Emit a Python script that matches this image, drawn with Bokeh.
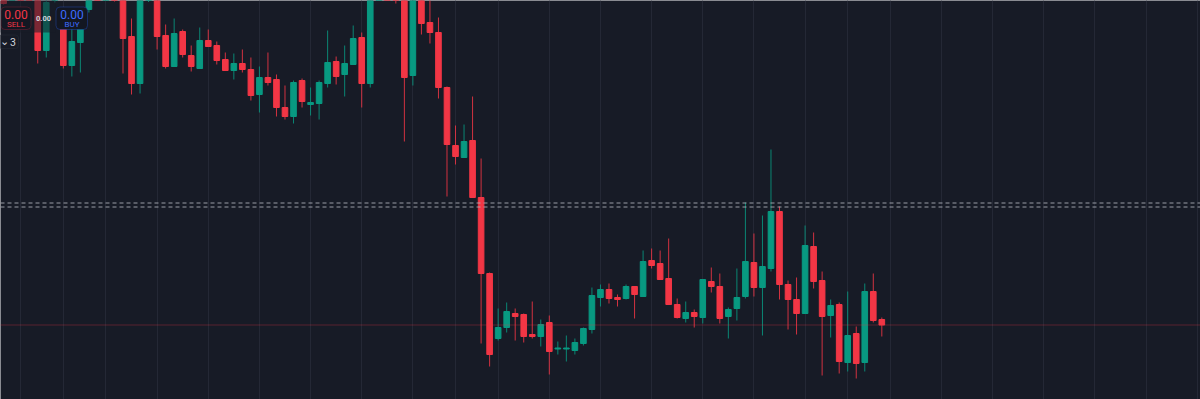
from bokeh.plotting import figure
from bokeh.models import Range1d, Span, BoxAnnotation, Label, FixedTicker, ColumnDataSource
from bokeh.embed import file_html
from bokeh.resources import INLINE

# ---- data (price units, arbitrary scale) ----
opens = [430, 410, 440, 415, 420, 350, 405, 385, 335, 358,
         391, 440, 415, 430, 410, 364, 317, 405, 420, 365,
         334, 369, 345, 332, 360, 355, 341, 330, 337, 331,
         306, 323, 321, 293, 284, 320, 296, 297, 317, 339,
         326, 336, 363, 317, 410, 450, 440, 410, 325, 405,
         378, 368, 313, 255, 243, 260, 203, 127, 62, 73,
         87, 86, 66, 64, 78, 51.5, 51.5, 50, 57, 71,
         103, 111, 103, 102, 114, 104, 140, 137, 122, 96,
         82, 88, 83, 119, 114, 84, 92, 104, 138, 113,
         132, 189, 116, 101, 87, 154, 120, 85, 96, 38,
         67, 38, 109, 81]
highs = [440, 445, 450, 420, 425, 405, 435, 392, 380, 385,
         420, 450, 450, 440, 420, 382, 415, 445, 430, 376,
         382, 371, 355, 373, 371, 359, 348, 347, 351, 343,
         334, 348, 326, 315, 320, 322, 313, 320, 370, 344,
         355, 375, 368, 430, 460, 460, 450, 420, 420, 415,
         405, 383, 314, 275, 276, 304, 242, 128, 92, 98,
         92, 87, 99, 81, 85, 59, 65, 62, 73, 113,
         116, 117, 106, 116, 114, 150, 152, 150, 162, 102,
         99, 91, 121, 133, 127, 93, 132, 198, 167, 185,
         251, 194, 120, 123, 175, 168, 129, 101, 98, 109,
         74, 117, 127, 83]
lows = [396, 408, 408, 403, 337, 343, 398, 332, 324, 328,
        388, 410, 405, 399, 327, 306, 307, 398.5, 351, 332,
        334, 343, 329, 332, 354, 336, 330, 321, 328, 300,
        288, 315, 284, 281, 277, 293, 285, 281, 313, 316,
        304, 336, 293, 313, 405, 403, 397, 259, 315, 366,
        357, 302, 204, 236, 243, 203, 57, 34, 60, 68,
        60, 58, 62, 54, 26, 46, 39, 46, 55, 67,
        94, 97, 94, 101, 82, 104, 132, 121, 96, 82,
        78, 73, 77, 108, 77, 62, 80, 102, 104, 65,
        129, 101, 71, 66, 87, 112, 25, 63, 27, 29,
        22, 29, 78, 64]
closes = [397, 440, 415, 405, 350, 398, 430, 335, 359, 378,
          415, 420, 440, 405, 362, 317, 410, 440, 364, 334,
          367, 346, 334, 360, 354, 340, 330, 337, 331, 305,
          323, 318, 293, 284, 318, 299, 298, 318, 338, 324,
          337, 362, 317, 420, 450, 410, 408, 323, 415, 377,
          368, 313, 256, 244, 259, 203, 127, 46, 73, 89,
          84, 64, 64, 76, 49, 52.5, 52.5, 58, 72, 105,
          111, 102, 101, 114, 106, 139, 135, 121, 96, 83,
          88, 84, 121, 114, 82, 91, 103, 139, 113, 134,
          189, 116, 101, 87, 155, 119, 84, 95, 39, 65,
          37, 109, 80, 75.5]
grid_bars = [2, 7, 12, 18, 24, 30, 36, 42, 48, 53, 58, 64, 70, 76, 82, 88,
             94, 99, 104, 110, 116, 122, 128, 134, 140]
level_lines = [197.5, 193.5]
sell_price = "0.00"
buy_price = "0.00"
spread = "0.00"
qty = "3"

# ---- styling / geometry ----
W, H = 1200, 399
OFF = 0
BAR_PX = 8.526
X0_PX = 3.14
BG = "#171b26"
UP = "#089981"
DOWN = "#f23645"


def X(px):
    return (px - X0_PX) / BAR_PX


def Y(py):
    return 400 - py


idx = list(range(len(opens)))
colors = [UP if c >= o else DOWN for o, c in zip(opens, closes)]
src = ColumnDataSource(dict(
    x=idx, open=opens, high=highs, low=lows, close=closes,
    top=[max(o, c) for o, c in zip(opens, closes)],
    bottom=[min(o, c) for o, c in zip(opens, closes)],
    color=colors,
))

p = figure(width=W, height=H, output_backend="svg", toolbar_location=None,
           x_range=Range1d(X(OFF), X(OFF + W)), y_range=Range1d(Y(OFF + H), Y(OFF)),
           x_axis_location=None, y_axis_location=None, min_border=0)
p.background_fill_color = BG
p.border_fill_color = BG
p.outline_line_color = None

p.xgrid.ticker = FixedTicker(ticks=grid_bars)
p.xgrid.grid_line_color = "#242835"
p.xgrid.grid_line_width = 1
p.ygrid.visible = False

p.segment(x0="x", x1="x", y0="low", y1="high", line_color="color", line_width=1,
          line_alpha=0.85, source=src)
p.vbar(x="x", width=0.66, top="top", bottom="bottom", fill_color="color",
       line_color="color", line_width=1, source=src)

for lv in level_lines:
    p.add_layout(Span(location=lv, dimension="width", line_color="#b2b5be",
                      line_alpha=0.85, line_width=1, line_dash="4 3"))
p.add_layout(Span(location=closes[-1], dimension="width", line_color=DOWN,
                  line_alpha=0.6, line_width=1, line_dash="1 1"))

# trading widget (top-left)
p.add_layout(BoxAnnotation(left=X(-2), right=X(55), top=Y(-5), bottom=Y(32),
                           fill_color=BG, fill_alpha=0.55, line_color=None))
p.add_layout(BoxAnnotation(left=X(0.5), right=X(30.5), top=Y(6.5), bottom=Y(29),
                           fill_color="#131722", fill_alpha=1, line_color="#b52c3e",
                           line_width=1, border_radius=4))
p.add_layout(BoxAnnotation(left=X(55.5), right=X(87), top=Y(6.5), bottom=Y(29),
                           fill_color="#131722", fill_alpha=1, line_color="#2962ff",
                           line_width=1, border_radius=4))
p.add_layout(BoxAnnotation(left=X(-4), right=X(18), top=Y(34.5), bottom=Y(48),
                           fill_color=BG, fill_alpha=1, line_color="#363a45",
                           line_width=1, border_radius=3))


def lab(px, py, text, size, color, bold=False, font="Roboto"):
    p.add_layout(Label(x=X(px), y=Y(py), text=text, text_font=font,
                       text_font_size=f"{size}px", text_color=color,
                       text_align="center", text_baseline="middle",
                       text_font_style="bold" if bold else "normal"))


lab(15.5, 13.5, sell_price, 12, DOWN)
lab(15.5, 23.5, "SELL", 8, DOWN)
lab(71.5, 13.5, buy_price, 12, "#3d6bff")
lab(71.5, 23.5, "BUY", 8, "#3d6bff")
lab(43, 18, spread, 7.5, "#d1d4dc", bold=True)
lab(4, 41, "⌄", 11, "#d1d4dc", font="DejaVu Sans")
lab(12.5, 41.5, qty, 10.5, "#d1d4dc")

open("out.html", "w").write(file_html(p, INLINE))
